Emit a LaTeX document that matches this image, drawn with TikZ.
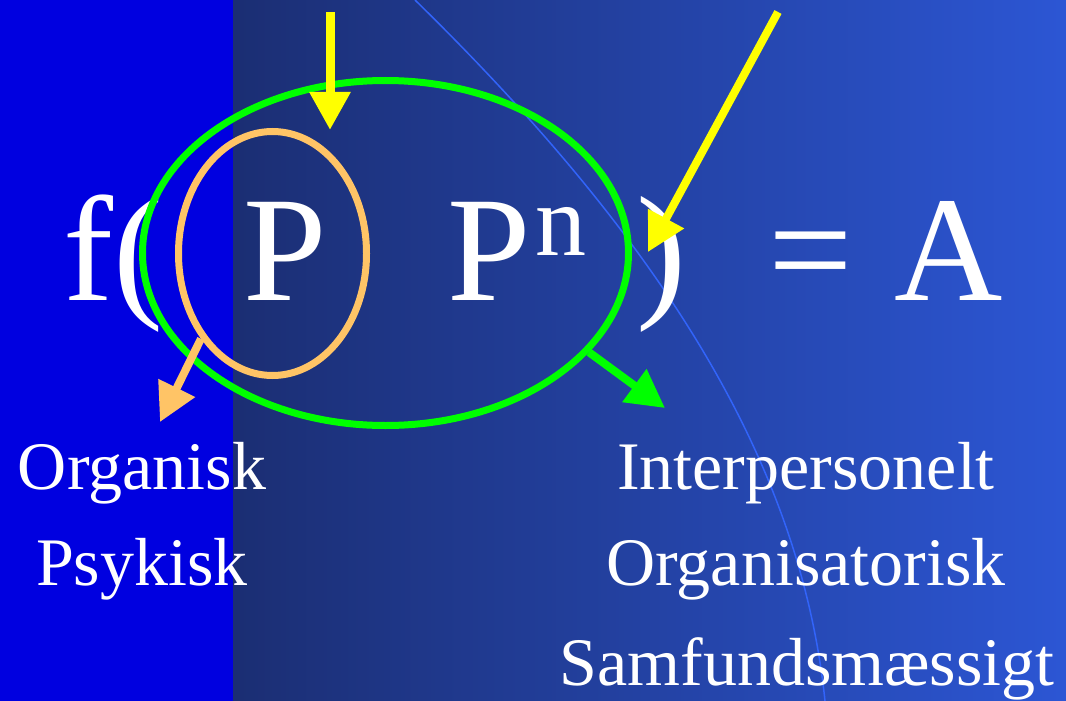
\documentclass[tikz,border=0pt]{standalone}
\usepackage{fontspec}
\setmainfont{Liberation Serif}
\usetikzlibrary{shapes.geometric,arrows.meta}
\definecolor{kant}{RGB}{0,0,224}
\definecolor{navyA}{RGB}{27,46,115}
\definecolor{navyB}{RGB}{30,56,140}
\definecolor{navyC}{RGB}{44,86,212}
\definecolor{bue}{RGB}{50,100,250}
\definecolor{orangeP}{RGB}{255,196,102}
\definecolor{groenP}{RGB}{0,255,0}
\definecolor{gulP}{RGB}{255,255,0}
\begin{document}
\begin{tikzpicture}[x=1pt,y=-1pt,every node/.style={text=white,inner sep=0pt},formel/.style={font=\fontsize{150}{150}\selectfont,anchor=base west},etiket/.style={font=\fontsize{68}{68}\selectfont,anchor=base},ring/.style={draw,ellipse,line width=7pt,inner sep=0pt},pil/.style={line width=#1,-{Triangle[length=38pt,width=39pt]}}]
\useasboundingbox (0,0) rectangle (1066,701);
% baggrund
\fill[kant] (0,0) rectangle (233,701);
\shade[left color=navyA,middle color=navyB,right color=navyC] (233,0) rectangle (1066,701);
\draw[bue,line width=1.5pt] (415,0) .. controls (660,240) and (800,460) .. (825,701);
% formel
\node[formel] (f) at (63,300) {f(};
\node[formel] (p) at (243,300) {P};
\node[formel] (pn) at (447,300) {P\hspace{5pt}\raisebox{45pt}{\fontsize{102}{102}\selectfont n}};
\node[formel] (luk) at (636,300) {)};
\node[formel] (lig) at (768,300) {=};
\node[formel] (a) at (894,300) {A};
% ringe
\node[ring,draw=orangeP,minimum width=188pt,minimum height=244pt] (pOval) at (272.5,253.5) {};
\node[ring,draw=groenP,minimum width=486pt,minimum height=345pt] (pnRing) at (385.5,253) {};
% etiketter
\node[etiket] (org) at (142,489) {Organisk};
\node[etiket] (psy) at (142,585) {Psykisk};
\node[etiket] (inter) at (806,489) {Interpersonelt};
\node[etiket] (orgs) at (806,585) {Organisatorisk};
\node[etiket] (samf) at (807,685) {Samfundsmæssigt};
% pile
\coordinate (g1) at (330,12);\coordinate (g1s) at (330,130);
\coordinate (g2) at (778,12);\coordinate (g2s) at (648,252);
\coordinate (os) at (160,422);\coordinate (gs) at (665,408);
\draw[pil=9pt,gulP] (g1)--(g1s);\draw[pil=8pt,gulP] (g2)--(g2s);
\draw[pil=8pt,orangeP] (pOval.230)--(os);\draw[pil=8pt,groenP] (pnRing.334)--(gs);
\end{tikzpicture}
\end{document}
